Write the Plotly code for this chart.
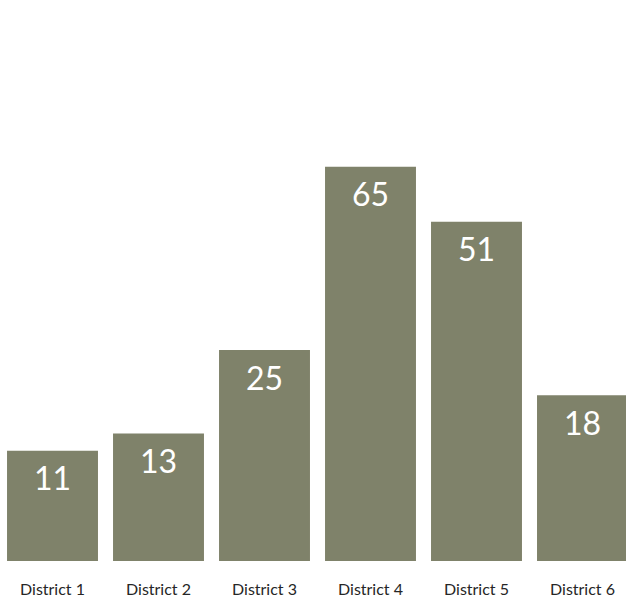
import numpy as np
import plotly.graph_objects as go

categories = ["District 1", "District 2", "District 3", "District 4", "District 5", "District 6"]
values = [11, 13, 25, 65, 51, 18]

bar_color = "#7f826a"
label_color = "#ffffff"
tick_color = "#262626"

# square-root value scale (bars are drawn on a sqrt scale)
scaled = np.sqrt(np.array(values, dtype=float))

fig = go.Figure()
fig.add_trace(go.Bar(
    x=categories,
    y=scaled,
    marker=dict(color=bar_color, line=dict(width=0)),
    hoverinfo="skip",
))

for c, v, s in zip(categories, values, scaled):
    fig.add_annotation(
        x=c, y=s, text=str(v), showarrow=False,
        xanchor="center", yanchor="middle", yshift=-27,
        font=dict(family="Lato", size=32, color=label_color),
    )

fig.update_layout(
    width=626, height=600,
    margin=dict(l=0, r=0, t=0, b=39),
    paper_bgcolor="white", plot_bgcolor="white",
    bargap=0.142,
    showlegend=False,
    xaxis=dict(
        type="category",
        range=[-0.4953, 5.4104],
        showgrid=False, zeroline=False, showline=False,
        ticks="", ticklabelstandoff=17,
        tickfont=dict(family="Lato", size=16, color=tick_color),
    ),
    yaxis=dict(
        range=[1.474, 10.849],
        visible=False, showgrid=False, zeroline=False,
    ),
)

fig.write_html("out.html")
